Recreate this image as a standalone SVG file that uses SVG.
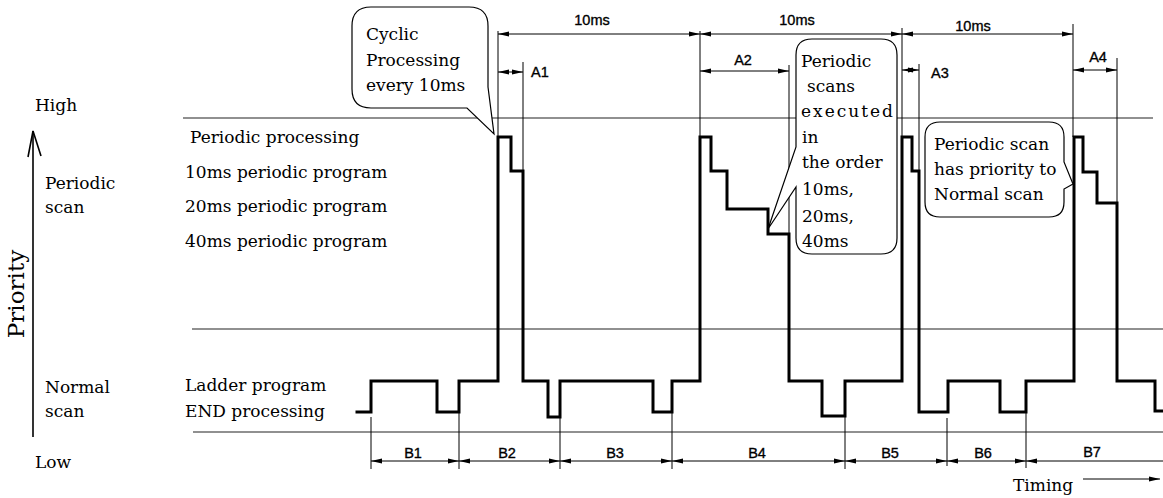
<svg xmlns="http://www.w3.org/2000/svg" width="1163" height="498" viewBox="0 0 1163 498">
<defs>
<marker id="arr" viewBox="0 0 11 6" refX="11" refY="3" markerWidth="11" markerHeight="6" markerUnits="userSpaceOnUse" orient="auto-start-reverse">
<path d="M0,0.5 L11,3 L0,5.5 z" fill="#000"/>
</marker>
</defs>
<style>
.serif{font-family:"DejaVu Serif","Liberation Serif",serif;font-size:17px;fill:#000}
.big{font-size:23px}
.sans{font-family:"Liberation Sans","DejaVu Sans",sans-serif;font-size:14.5px;fill:#000;stroke:#000;stroke-width:0.35}
.thin{stroke:#000;stroke-width:1;fill:none}
.axis{stroke:#000;stroke-width:1.6;fill:none}
.grid{stroke:#222;stroke-width:1.2;fill:none}
.dim{stroke:#000;stroke-width:1;fill:none;marker-start:url(#arr);marker-end:url(#arr)}
.wave{stroke:#000;stroke-width:3;fill:none;stroke-linejoin:miter;stroke-linecap:square}
.bubble{stroke:#000;stroke-width:1.2;fill:#fff}
.spaced{letter-spacing:2px}
</style>
<rect width="1163" height="498" fill="#fff"/>

<g id="grid-lines">
<line class="grid" x1="183" y1="118" x2="1153" y2="118"/>
<line class="grid" x1="192" y1="329" x2="1163" y2="329"/>
<line class="grid" x1="193" y1="432" x2="1163" y2="432"/>
</g>

<g id="priority-axis">
<line class="axis" x1="33" y1="437" x2="33" y2="131"/>
<polyline class="axis" points="28,157 33,131 41,156"/>
<text class="serif" x="35" y="111">High</text>
<text class="serif" x="35" y="468">Low</text>
<text class="serif big" transform="translate(24,294) rotate(-90)" text-anchor="middle">Priority</text>
<text class="serif" x="45" y="189">Periodic</text>
<text class="serif" x="45" y="213">scan</text>
<text class="serif" x="45" y="393">Normal</text>
<text class="serif" x="45" y="417">scan</text>
</g>

<g id="row-labels">
<text class="serif" x="190" y="143">Periodic processing</text>
<text class="serif" x="185" y="178">10ms periodic program</text>
<text class="serif" x="185" y="212">20ms periodic program</text>
<text class="serif" x="185" y="247">40ms periodic program</text>
<text class="serif" x="185" y="391">Ladder program</text>
<text class="serif" x="185" y="417">END processing</text>
</g>

<g id="connectors">
<line class="thin" x1="498" y1="31" x2="498" y2="137"/>
<line class="thin" x1="700" y1="31" x2="700" y2="137"/>
<line class="thin" x1="902" y1="28" x2="902" y2="137"/>
<line class="thin" x1="1073" y1="24" x2="1073" y2="137"/>
<line class="thin" x1="523" y1="62" x2="523" y2="171"/>
<line class="thin" x1="789" y1="65" x2="789" y2="234"/>
<line class="thin" x1="919" y1="64" x2="919" y2="171"/>
<line class="thin" x1="1117" y1="58" x2="1117" y2="203"/>
<line class="thin" x1="371" y1="417" x2="371" y2="469"/>
<line class="thin" x1="459" y1="413" x2="459" y2="469"/>
<line class="thin" x1="560" y1="417" x2="560" y2="469"/>
<line class="thin" x1="672" y1="413" x2="672" y2="469"/>
<line class="thin" x1="845" y1="416" x2="845" y2="469"/>
<line class="thin" x1="947" y1="418" x2="947" y2="466"/>
<line class="thin" x1="1026" y1="413" x2="1026" y2="468"/>
<line class="dim" x1="498" y1="34" x2="700" y2="34"/>
<line class="dim" x1="700" y1="34" x2="902" y2="34"/>
<line class="dim" x1="902" y1="34" x2="1073" y2="34"/>
<line class="dim" x1="498" y1="72" x2="523" y2="72"/>
<line class="dim" x1="700" y1="71" x2="789" y2="71"/>
<line class="dim" x1="902" y1="70" x2="919" y2="70"/>
<line class="dim" x1="1073" y1="70" x2="1117" y2="70"/>
<line class="dim" x1="371" y1="461" x2="459" y2="461"/>
<line class="dim" x1="459" y1="461" x2="560" y2="461"/>
<line class="dim" x1="560" y1="461" x2="672" y2="461"/>
<line class="dim" x1="672" y1="461" x2="845" y2="461"/>
<line class="dim" x1="845" y1="461" x2="947" y2="461"/>
<line class="dim" x1="947" y1="461" x2="1026" y2="461"/>
<line class="thin" x1="1026" y1="461" x2="1163" y2="461" marker-start="url(#arr)"/>
<line class="thin" x1="1083" y1="479" x2="1160" y2="479" marker-end="url(#arr)"/>
</g>

<g id="dimension-labels">
<text class="sans" x="592" y="25" text-anchor="middle">10ms</text>
<text class="sans" x="797" y="25" text-anchor="middle">10ms</text>
<text class="sans" x="973" y="31" text-anchor="middle">10ms</text>
<text class="sans" x="531" y="77">A1</text>
<text class="sans" x="743" y="65" text-anchor="middle">A2</text>
<text class="sans" x="931" y="78">A3</text>
<text class="sans" x="1098" y="62" text-anchor="middle">A4</text>
<text class="sans" x="413" y="458" text-anchor="middle">B1</text>
<text class="sans" x="507" y="458" text-anchor="middle">B2</text>
<text class="sans" x="615" y="458" text-anchor="middle">B3</text>
<text class="sans" x="757" y="458" text-anchor="middle">B4</text>
<text class="sans" x="890" y="458" text-anchor="middle">B5</text>
<text class="sans" x="983" y="458" text-anchor="middle">B6</text>
<text class="sans" x="1092" y="457" text-anchor="middle">B7</text>
<text class="serif" x="1013" y="491">Timing</text>
</g>

<g id="waveform">
<path class="wave" d="M357 412 H371 V381 H437 V412 H459 V381 H498 V137 H511 V171 H523 V381 H548 V417 H560 V381 H653 V412 H672 V381 H700 V137 H711 V171 H727 V209 H768 V234 H789 V381 H822 V416 H845 V381 H902 V137 H912 V171 H919 V412 H948 V381 H1000 V412 H1026 V381 H1074 V137 H1083 V172 H1097 V203 H1117 V381 H1155 V411 H1163"/>
</g>

<g id="callout-cyclic">
<path class="bubble" d="M371 7 H469 Q488 7 488 26 V87 L494 134 L467 108 H371 Q352 108 352 89 V26 Q352 7 371 7 Z"/>
<text class="serif" x="366" y="40">Cyclic</text>
<text class="serif" x="366" y="66">Processing</text>
<text class="serif" x="366" y="91">every 10ms</text>
</g>

<g id="callout-order">
<path class="bubble" d="M812 39 H881 Q897 39 897 55 V238 Q897 254 881 254 H812 Q796 254 796 238 V187 L768 229 L796 147 V55 Q796 39 812 39 Z"/>
<text class="serif" x="801" y="67">Periodic</text>
<text class="serif" x="807" y="92">scans</text>
<text class="serif spaced" x="801" y="117">executed</text>
<text class="serif" x="802" y="143">in</text>
<text class="serif" x="802" y="168">the order</text>
<text class="serif" x="802" y="195">10ms,</text>
<text class="serif" x="802" y="222">20ms,</text>
<text class="serif" x="802" y="247">40ms</text>
</g>

<g id="callout-priority">
<path class="bubble" d="M940 122 H1049 Q1064 122 1064 137 V162 L1073 184 L1064 189 V202 Q1064 217 1049 217 H940 Q925 217 925 202 V137 Q925 122 940 122 Z"/>
<text class="serif" x="934" y="150">Periodic scan</text>
<text class="serif" x="934" y="175">has priority to</text>
<text class="serif" x="934" y="200">Normal scan</text>
</g>
</svg>
